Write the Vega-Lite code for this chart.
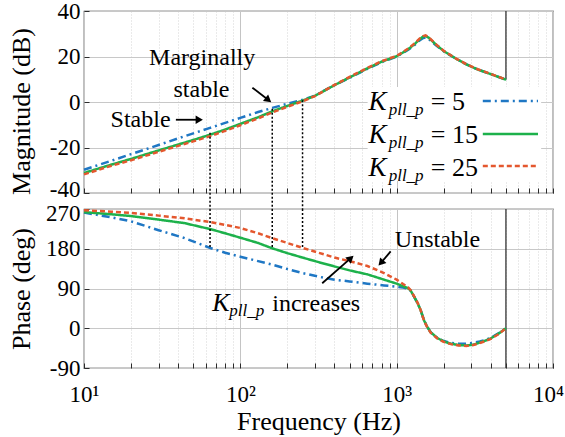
{
  "$schema": "https://vega.github.io/schema/vega-lite/v6.json",
  "background": "white",
  "padding": {"left": 7, "top": -1, "right": 5, "bottom": 5},
  "spacing": 16,
  "bounds": "flush",
  "config": {
    "font": "Liberation Serif",
    "view": {"stroke": "#2b2b2b", "strokeWidth": 1.2},
    "axis": {
      "domain": false,
      "grid": true,
      "labelOverlap": false,
      "labelFont": "Liberation Serif",
      "labelFontSize": 23,
      "labelColor": "black",
      "titleFont": "Liberation Serif",
      "titleFontSize": 26,
      "titleFontWeight": "normal",
      "titleColor": "black",
      "tickColor": "#2b2b2b",
      "tickSize": -5,
      "gridColor": "#c8c8c8",
      "gridWidth": 1
    }
  },
  "datasets": {
    "mag": [
      {"K": "5", "f": 10, "db": -29.8}, {"K": "5", "f": 15, "db": -25.8}, {"K": "5", "f": 20, "db": -22.9}, {"K": "5", "f": 30, "db": -18.9}, {"K": "5", "f": 40, "db": -16.0}, {"K": "5", "f": 50, "db": -13.8}, {"K": "5", "f": 64, "db": -11.4}, {"K": "5", "f": 80, "db": -9.2}, {"K": "5", "f": 100, "db": -7.0}, {"K": "5", "f": 130, "db": -4.4}, {"K": "5", "f": 160, "db": -2.6}, {"K": "5", "f": 200, "db": -0.8}, {"K": "5", "f": 250, "db": 1.0}, {"K": "5", "f": 300, "db": 2.8}, {"K": "5", "f": 400, "db": 7.4}, {"K": "5", "f": 500, "db": 10.6}, {"K": "5", "f": 650, "db": 14.6}, {"K": "5", "f": 800, "db": 17.5}, {"K": "5", "f": 1000, "db": 20.0}, {"K": "5", "f": 1100, "db": 21.6}, {"K": "5", "f": 1200, "db": 23.2}, {"K": "5", "f": 1300, "db": 25.0}, {"K": "5", "f": 1400, "db": 27.0}, {"K": "5", "f": 1480, "db": 28.1}, {"K": "5", "f": 1530, "db": 28.3}, {"K": "5", "f": 1600, "db": 27.7}, {"K": "5", "f": 1700, "db": 26.2}, {"K": "5", "f": 1800, "db": 24.7}, {"K": "5", "f": 2000, "db": 22.3}, {"K": "5", "f": 2400, "db": 19.0}, {"K": "5", "f": 2800, "db": 16.5}, {"K": "5", "f": 3300, "db": 14.3}, {"K": "5", "f": 3800, "db": 12.8}, {"K": "5", "f": 4400, "db": 11.2}, {"K": "5", "f": 5000, "db": 9.8},
      {"K": "15", "f": 10, "db": -31.2}, {"K": "15", "f": 15, "db": -27.5}, {"K": "15", "f": 20, "db": -25.0}, {"K": "15", "f": 30, "db": -21.3}, {"K": "15", "f": 40, "db": -18.7}, {"K": "15", "f": 50, "db": -16.7}, {"K": "15", "f": 64, "db": -14.4}, {"K": "15", "f": 80, "db": -12.1}, {"K": "15", "f": 100, "db": -9.6}, {"K": "15", "f": 130, "db": -6.7}, {"K": "15", "f": 160, "db": -4.1}, {"K": "15", "f": 200, "db": -1.7}, {"K": "15", "f": 250, "db": 0.6}, {"K": "15", "f": 300, "db": 2.7}, {"K": "15", "f": 400, "db": 7.4}, {"K": "15", "f": 500, "db": 10.8}, {"K": "15", "f": 650, "db": 14.8}, {"K": "15", "f": 800, "db": 17.7}, {"K": "15", "f": 1000, "db": 20.1}, {"K": "15", "f": 1100, "db": 21.8}, {"K": "15", "f": 1200, "db": 23.5}, {"K": "15", "f": 1300, "db": 25.4}, {"K": "15", "f": 1400, "db": 27.5}, {"K": "15", "f": 1480, "db": 28.8}, {"K": "15", "f": 1530, "db": 29.0}, {"K": "15", "f": 1600, "db": 28.3}, {"K": "15", "f": 1700, "db": 26.6}, {"K": "15", "f": 1800, "db": 25.0}, {"K": "15", "f": 2000, "db": 22.4}, {"K": "15", "f": 2400, "db": 19.0}, {"K": "15", "f": 2800, "db": 16.5}, {"K": "15", "f": 3300, "db": 14.3}, {"K": "15", "f": 3800, "db": 12.8}, {"K": "15", "f": 4400, "db": 11.2}, {"K": "15", "f": 5000, "db": 9.8},
      {"K": "25", "f": 10, "db": -31.8}, {"K": "25", "f": 15, "db": -28.0}, {"K": "25", "f": 20, "db": -25.6}, {"K": "25", "f": 30, "db": -21.9}, {"K": "25", "f": 40, "db": -19.3}, {"K": "25", "f": 50, "db": -17.3}, {"K": "25", "f": 64, "db": -15.0}, {"K": "25", "f": 80, "db": -12.7}, {"K": "25", "f": 100, "db": -10.2}, {"K": "25", "f": 130, "db": -7.2}, {"K": "25", "f": 160, "db": -4.6}, {"K": "25", "f": 200, "db": -2.1}, {"K": "25", "f": 250, "db": 0.3}, {"K": "25", "f": 300, "db": 2.6}, {"K": "25", "f": 400, "db": 7.5}, {"K": "25", "f": 500, "db": 11.0}, {"K": "25", "f": 650, "db": 15.0}, {"K": "25", "f": 800, "db": 17.9}, {"K": "25", "f": 1000, "db": 20.3}, {"K": "25", "f": 1100, "db": 22.0}, {"K": "25", "f": 1200, "db": 23.8}, {"K": "25", "f": 1300, "db": 25.7}, {"K": "25", "f": 1400, "db": 27.8}, {"K": "25", "f": 1480, "db": 29.0}, {"K": "25", "f": 1530, "db": 29.3}, {"K": "25", "f": 1600, "db": 28.5}, {"K": "25", "f": 1700, "db": 26.8}, {"K": "25", "f": 1800, "db": 25.1}, {"K": "25", "f": 2000, "db": 22.5}, {"K": "25", "f": 2400, "db": 19.1}, {"K": "25", "f": 2800, "db": 16.6}, {"K": "25", "f": 3300, "db": 14.4}, {"K": "25", "f": 3800, "db": 12.9}, {"K": "25", "f": 4400, "db": 11.3}, {"K": "25", "f": 5000, "db": 9.9}
    ],
    "phase": [
      {"K": "5", "f": 10, "deg": 262}, {"K": "5", "f": 15, "deg": 251}, {"K": "5", "f": 20, "deg": 242}, {"K": "5", "f": 30, "deg": 222}, {"K": "5", "f": 44, "deg": 204}, {"K": "5", "f": 55, "deg": 191}, {"K": "5", "f": 65, "deg": 181}, {"K": "5", "f": 80, "deg": 171}, {"K": "5", "f": 100, "deg": 162}, {"K": "5", "f": 130, "deg": 152}, {"K": "5", "f": 160, "deg": 144}, {"K": "5", "f": 200, "deg": 134}, {"K": "5", "f": 250, "deg": 125}, {"K": "5", "f": 345, "deg": 114}, {"K": "5", "f": 400, "deg": 110}, {"K": "5", "f": 500, "deg": 106}, {"K": "5", "f": 650, "deg": 101}, {"K": "5", "f": 830, "deg": 97}, {"K": "5", "f": 1000, "deg": 94}, {"K": "5", "f": 1100, "deg": 92}, {"K": "5", "f": 1180, "deg": 90}, {"K": "5", "f": 1230, "deg": 85}, {"K": "5", "f": 1300, "deg": 70}, {"K": "5", "f": 1360, "deg": 57}, {"K": "5", "f": 1420, "deg": 42}, {"K": "5", "f": 1500, "deg": 17}, {"K": "5", "f": 1570, "deg": 3}, {"K": "5", "f": 1650, "deg": -9}, {"K": "5", "f": 1820, "deg": -22}, {"K": "5", "f": 2000, "deg": -29}, {"K": "5", "f": 2220, "deg": -33}, {"K": "5", "f": 2500, "deg": -35}, {"K": "5", "f": 2800, "deg": -35}, {"K": "5", "f": 3100, "deg": -33}, {"K": "5", "f": 3400, "deg": -30}, {"K": "5", "f": 3800, "deg": -25}, {"K": "5", "f": 4200, "deg": -17}, {"K": "5", "f": 4600, "deg": -9}, {"K": "5", "f": 5000, "deg": 0},
      {"K": "15", "f": 10, "deg": 263}, {"K": "15", "f": 15, "deg": 258}, {"K": "15", "f": 20, "deg": 254}, {"K": "15", "f": 30, "deg": 246}, {"K": "15", "f": 44, "deg": 238}, {"K": "15", "f": 65, "deg": 224}, {"K": "15", "f": 80, "deg": 215}, {"K": "15", "f": 100, "deg": 205}, {"K": "15", "f": 130, "deg": 193}, {"K": "15", "f": 160, "deg": 181}, {"K": "15", "f": 200, "deg": 170}, {"K": "15", "f": 250, "deg": 160}, {"K": "15", "f": 345, "deg": 146}, {"K": "15", "f": 400, "deg": 140}, {"K": "15", "f": 500, "deg": 131}, {"K": "15", "f": 650, "deg": 122}, {"K": "15", "f": 830, "deg": 110}, {"K": "15", "f": 1000, "deg": 101}, {"K": "15", "f": 1100, "deg": 95}, {"K": "15", "f": 1180, "deg": 91}, {"K": "15", "f": 1230, "deg": 85}, {"K": "15", "f": 1300, "deg": 70}, {"K": "15", "f": 1360, "deg": 57}, {"K": "15", "f": 1420, "deg": 42}, {"K": "15", "f": 1500, "deg": 17}, {"K": "15", "f": 1570, "deg": 3}, {"K": "15", "f": 1650, "deg": -9}, {"K": "15", "f": 1820, "deg": -22}, {"K": "15", "f": 2000, "deg": -30}, {"K": "15", "f": 2220, "deg": -35}, {"K": "15", "f": 2500, "deg": -38}, {"K": "15", "f": 2800, "deg": -39}, {"K": "15", "f": 3100, "deg": -37}, {"K": "15", "f": 3300, "deg": -34}, {"K": "15", "f": 3700, "deg": -28}, {"K": "15", "f": 4000, "deg": -23}, {"K": "15", "f": 4500, "deg": -12}, {"K": "15", "f": 5000, "deg": 0},
      {"K": "25", "f": 10, "deg": 267}, {"K": "25", "f": 15, "deg": 264}, {"K": "25", "f": 20, "deg": 261}, {"K": "25", "f": 30, "deg": 255}, {"K": "25", "f": 44, "deg": 249}, {"K": "25", "f": 65, "deg": 240}, {"K": "25", "f": 80, "deg": 234}, {"K": "25", "f": 100, "deg": 227}, {"K": "25", "f": 130, "deg": 215}, {"K": "25", "f": 160, "deg": 204}, {"K": "25", "f": 200, "deg": 193}, {"K": "25", "f": 250, "deg": 182}, {"K": "25", "f": 345, "deg": 167}, {"K": "25", "f": 400, "deg": 160}, {"K": "25", "f": 500, "deg": 152}, {"K": "25", "f": 650, "deg": 141}, {"K": "25", "f": 830, "deg": 125}, {"K": "25", "f": 1000, "deg": 110}, {"K": "25", "f": 1100, "deg": 100}, {"K": "25", "f": 1180, "deg": 93}, {"K": "25", "f": 1230, "deg": 86}, {"K": "25", "f": 1300, "deg": 71}, {"K": "25", "f": 1360, "deg": 58}, {"K": "25", "f": 1420, "deg": 42}, {"K": "25", "f": 1500, "deg": 16}, {"K": "25", "f": 1570, "deg": 2}, {"K": "25", "f": 1650, "deg": -10}, {"K": "25", "f": 1820, "deg": -23}, {"K": "25", "f": 2000, "deg": -31}, {"K": "25", "f": 2220, "deg": -36}, {"K": "25", "f": 2500, "deg": -39}, {"K": "25", "f": 2800, "deg": -40}, {"K": "25", "f": 3100, "deg": -38}, {"K": "25", "f": 3300, "deg": -35}, {"K": "25", "f": 3700, "deg": -29}, {"K": "25", "f": 4000, "deg": -24}, {"K": "25", "f": 4500, "deg": -13}, {"K": "25", "f": 5000, "deg": 0}
    ],
    "leg": [
      {"K": "5", "label": "= 5", "line": 0.4, "base": -3.5, "sub": -5.7},
      {"K": "15", "label": "= 15", "line": -14.1, "base": -18.0, "sub": -20.2},
      {"K": "25", "label": "= 25", "line": -28.1, "base": -32.5, "sub": -34.7}
    ]
  },
  "vconcat": [
    {
      "width": 469,
      "height": 182,
      "layer": [
        {
          "data": {"values": [{}]},
          "mark": {"type": "rect", "fill": "white"},
          "encoding": {
            "x": {"datum": 652, "type": "quantitative"},
            "x2": {"datum": 8400},
            "y": {"datum": 6.6, "type": "quantitative"},
            "y2": {"datum": -34.7}
          }
        },
        {
          "data": {"values": [{}]},
          "mark": {"type": "rule", "color": "#333333", "strokeWidth": 1.3},
          "encoding": {
            "x": {"datum": 5000, "type": "quantitative"},
            "y": {"datum": 40, "type": "quantitative"},
            "y2": {"datum": 9.8}
          }
        },
        {
          "data": {"name": "mag"},
          "mark": {"type": "line", "strokeWidth": 2.5},
          "encoding": {
            "x": {
              "field": "f", "type": "quantitative",
              "scale": {"type": "log", "domain": [10, 10000], "nice": false},
              "axis": {
                "values": [10, 20, 30, 40, 50, 60, 70, 80, 90, 100, 200, 300, 400, 500, 600, 700, 800, 900, 1000, 2000, 3000, 4000, 5000, 6000, 7000, 8000, 9000, 10000],
                "tickCount": 40,
                "labels": false,
                "title": null,
                "gridDash": {"condition": {"test": "datum.value==10||datum.value==100||datum.value==1000||datum.value==10000", "value": []}, "value": [1, 2]},
                "gridColor": {"condition": {"test": "datum.value==10||datum.value==100||datum.value==1000||datum.value==10000", "value": "#c4c4c4"}, "value": "#d4d4d4"}
              }
            },
            "y": {
              "field": "db", "type": "quantitative",
              "scale": {"domain": [-40, 40], "nice": false},
              "axis": {"values": [-40, -20, 0, 20, 40], "tickCount": 10, "labelExpr": "datum.value < 0 ? '-' + (-datum.value) : '' + datum.value", "labelOffset": {"condition": {"test": "datum.value==-40", "value": -4}, "value": 0}, "title": "Magnitude (dB)", "labelPadding": 9, "titlePadding": 15, "titleY": 100}
            },
            "color": {"field": "K", "type": "nominal", "scale": {"domain": ["5", "15", "25"], "range": ["#1f77c4", "#1db14b", "#e4572e"]}, "legend": null},
            "strokeDash": {"field": "K", "type": "nominal", "scale": {"domain": ["5", "15", "25"], "range": [[8, 4, 2, 4], [1, 0], [5, 3]]}, "legend": null}
          }
        },
        {
          "data": {"values": [{"f": 64, "a": -13.5, "b": -47.3}, {"f": 160, "a": -3.0, "b": -47.3}, {"f": 250, "a": 0.8, "b": -47.3}]},
          "mark": {"type": "rule", "color": "black", "strokeWidth": 1.5, "strokeDash": [2, 2]},
          "encoding": {
            "x": {"field": "f", "type": "quantitative"},
            "y": {"field": "a", "type": "quantitative"},
            "y2": {"field": "b"}
          }
        },
        {
          "data": {"name": "leg"},
          "mark": {"type": "rule", "strokeWidth": 2.5},
          "encoding": {
            "x": {"datum": 3556, "type": "quantitative"},
            "x2": {"datum": 8017},
            "y": {"field": "line", "type": "quantitative"},
            "color": {"field": "K", "type": "nominal", "legend": null},
            "strokeDash": {"field": "K", "type": "nominal", "legend": null}
          }
        },
        {
          "data": {"name": "leg"},
          "mark": {"type": "text", "font": "Liberation Serif", "fontStyle": "italic", "fontSize": 27, "align": "left", "baseline": "alphabetic"},
          "encoding": {
            "x": {"datum": 661, "type": "quantitative"},
            "y": {"field": "base", "type": "quantitative"},
            "text": {"value": "K"}
          }
        },
        {
          "data": {"name": "leg"},
          "mark": {"type": "text", "font": "Liberation Serif", "fontStyle": "italic", "fontSize": 17, "align": "left", "baseline": "alphabetic"},
          "encoding": {
            "x": {"datum": 889, "type": "quantitative"},
            "y": {"field": "sub", "type": "quantitative"},
            "text": {"value": "pll_p"}
          }
        },
        {
          "data": {"name": "leg"},
          "mark": {"type": "text", "font": "Liberation Serif", "fontSize": 26, "align": "left", "baseline": "alphabetic"},
          "encoding": {
            "x": {"datum": 1652, "type": "quantitative"},
            "y": {"field": "base", "type": "quantitative"},
            "text": {"field": "label"}
          }
        },
        {
          "data": {"values": [{"t": "Marginally", "f": 57, "v": 16.3}, {"t": "stable", "f": 56.4, "v": 2.1}, {"t": "Stable", "f": 23.0, "v": -11.1}]},
          "mark": {"type": "text", "font": "Liberation Serif", "fontSize": 24, "align": "center", "baseline": "alphabetic"},
          "encoding": {
            "x": {"field": "f", "type": "quantitative"},
            "y": {"field": "v", "type": "quantitative"},
            "text": {"field": "t"}
          }
        },
        {
          "data": {"values": [{"f1": 38.7, "v1": -7.8, "f2": 54.6, "v2": -7.8}, {"f1": 119.4, "v1": 6.3, "f2": 151.2, "v2": 0.9}]},
          "mark": {"type": "rule", "color": "black", "strokeWidth": 1.8},
          "encoding": {
            "x": {"field": "f1", "type": "quantitative"},
            "y": {"field": "v1", "type": "quantitative"},
            "x2": {"field": "f2"},
            "y2": {"field": "v2"}
          }
        },
        {
          "data": {"values": [{"f": 54.6, "v": -7.8}]},
          "mark": {"type": "point", "shape": "triangle-right", "filled": true, "color": "black", "size": 70, "opacity": 1, "angle": 0},
          "encoding": {
            "x": {"field": "f", "type": "quantitative"},
            "y": {"field": "v", "type": "quantitative"}
          }
        },
        {
          "data": {"values": [{"f": 151.2, "v": 0.9}]},
          "mark": {"type": "point", "shape": "triangle-right", "filled": true, "color": "black", "size": 70, "opacity": 1, "angle": 38},
          "encoding": {
            "x": {"field": "f", "type": "quantitative"},
            "y": {"field": "v", "type": "quantitative"}
          }
        }
      ]
    },
    {
      "width": 469,
      "height": 159,
      "layer": [
        {
          "data": {"values": [{}]},
          "mark": {"type": "rule", "color": "#333333", "strokeWidth": 1.3},
          "encoding": {
            "x": {"datum": 5000, "type": "quantitative"},
            "y": {"datum": 270, "type": "quantitative"},
            "y2": {"datum": -90}
          }
        },
        {
          "data": {"name": "phase"},
          "mark": {"type": "line", "strokeWidth": 2.5},
          "encoding": {
            "x": {
              "field": "f", "type": "quantitative",
              "scale": {"type": "log", "domain": [10, 10000], "nice": false},
              "axis": {
                "values": [10, 20, 30, 40, 50, 60, 70, 80, 90, 100, 200, 300, 400, 500, 600, 700, 800, 900, 1000, 2000, 3000, 4000, 5000, 6000, 7000, 8000, 9000, 10000],
                "tickCount": 40,
                "labelExpr": "datum.value==10?'10¹':datum.value==100?'10²':datum.value==1000?'10³':datum.value==10000?'10⁴':''",
                "labelFlush": false,
                "labelOffset": {"condition": {"test": "datum.value==10000", "value": -5}, "value": 0},
                "labelPadding": 20,
                "title": "Frequency (Hz)",
                "titlePadding": 2,
                "gridDash": {"condition": {"test": "datum.value==10||datum.value==100||datum.value==1000||datum.value==10000", "value": []}, "value": [1, 2]},
                "gridColor": {"condition": {"test": "datum.value==10||datum.value==100||datum.value==1000||datum.value==10000", "value": "#c4c4c4"}, "value": "#d4d4d4"}
              }
            },
            "y": {
              "field": "deg", "type": "quantitative",
              "scale": {"domain": [-90, 270], "nice": false},
              "axis": {"values": [-90, 0, 90, 180, 270], "tickCount": 10, "labelExpr": "datum.value < 0 ? '-' + (-datum.value) : '' + datum.value", "labelOffset": {"condition": {"test": "datum.value==270", "value": 4}, "value": 0}, "title": "Phase (deg)", "labelPadding": 9, "titlePadding": 11}
            },
            "color": {"field": "K", "type": "nominal", "scale": {"domain": ["5", "15", "25"], "range": ["#1f77c4", "#1db14b", "#e4572e"]}, "legend": null},
            "strokeDash": {"field": "K", "type": "nominal", "scale": {"domain": ["5", "15", "25"], "range": [[8, 4, 2, 4], [1, 0], [5, 3]]}, "legend": null}
          }
        },
        {
          "data": {"values": [{"f": 64, "a": 270, "b": 181}, {"f": 160, "a": 270, "b": 181}, {"f": 250, "a": 270, "b": 182}]},
          "mark": {"type": "rule", "color": "black", "strokeWidth": 1.5, "strokeDash": [2, 2]},
          "encoding": {
            "x": {"field": "f", "type": "quantitative"},
            "y": {"field": "a", "type": "quantitative"},
            "y2": {"field": "b"}
          }
        },
        {
          "data": {"values": [{"t": "Unstable", "f": 1824, "v": 185}]},
          "mark": {"type": "text", "font": "Liberation Serif", "fontSize": 24, "align": "center", "baseline": "alphabetic"},
          "encoding": {
            "x": {"field": "f", "type": "quantitative"},
            "y": {"field": "v", "type": "quantitative"},
            "text": {"field": "t"}
          }
        },
        {
          "data": {"values": [{"t": "increases", "f": 160, "v": 38.5}]},
          "mark": {"type": "text", "font": "Liberation Serif", "fontSize": 24, "align": "left", "baseline": "alphabetic"},
          "encoding": {
            "x": {"field": "f", "type": "quantitative"},
            "y": {"field": "v", "type": "quantitative"},
            "text": {"field": "t"}
          }
        },
        {
          "data": {"values": [{"t": "K", "f": 66.1, "v": 38.5}]},
          "mark": {"type": "text", "font": "Liberation Serif", "fontStyle": "italic", "fontSize": 26, "align": "left", "baseline": "alphabetic"},
          "encoding": {
            "x": {"field": "f", "type": "quantitative"},
            "y": {"field": "v", "type": "quantitative"},
            "text": {"field": "t"}
          }
        },
        {
          "data": {"values": [{"t": "pll_p", "f": 85, "v": 27}]},
          "mark": {"type": "text", "font": "Liberation Serif", "fontStyle": "italic", "fontSize": 17, "align": "left", "baseline": "alphabetic"},
          "encoding": {
            "x": {"field": "f", "type": "quantitative"},
            "y": {"field": "v", "type": "quantitative"},
            "text": {"field": "t"}
          }
        },
        {
          "data": {"values": [{"f1": 915.5, "v1": 173.9, "f2": 793, "v2": 148}, {"f1": 334, "v1": 102, "f2": 509, "v2": 158.7}]},
          "mark": {"type": "rule", "color": "black", "strokeWidth": 1.8},
          "encoding": {
            "x": {"field": "f1", "type": "quantitative"},
            "y": {"field": "v1", "type": "quantitative"},
            "x2": {"field": "f2"},
            "y2": {"field": "v2"}
          }
        },
        {
          "data": {"values": [{"f": 793, "v": 148}]},
          "mark": {"type": "point", "shape": "triangle-right", "filled": true, "color": "black", "size": 70, "opacity": 1, "angle": 131},
          "encoding": {
            "x": {"field": "f", "type": "quantitative"},
            "y": {"field": "v", "type": "quantitative"}
          }
        },
        {
          "data": {"values": [{"f": 509, "v": 158.7}]},
          "mark": {"type": "point", "shape": "triangle-right", "filled": true, "color": "black", "size": 70, "opacity": 1, "angle": 319},
          "encoding": {
            "x": {"field": "f", "type": "quantitative"},
            "y": {"field": "v", "type": "quantitative"}
          }
        }
      ]
    }
  ]
}
